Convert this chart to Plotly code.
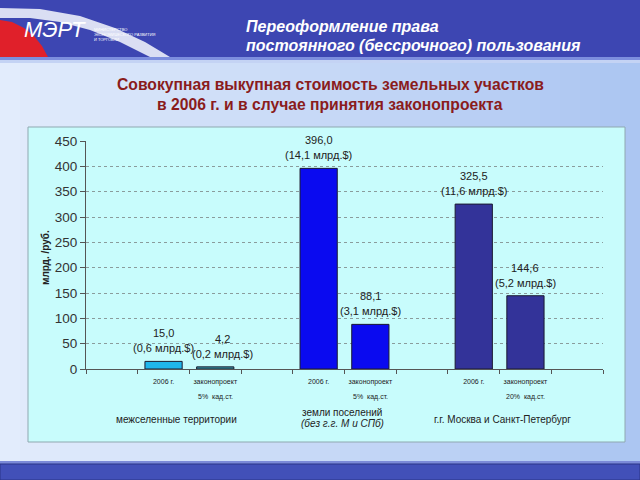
import plotly.graph_objects as go

# ---------------- data ----------------
slot_keys = ["s0", "s1", "s2", "s3", "s4", "s5", "s6", "s7", "s8", "s9"]
tick_labels = ["", "2006 г.", "законопроект", "", "2006 г.", "законопроект", "", "2006 г.", "законопроект", ""]
bar_slots = ["s1", "s2", "s4", "s5", "s7", "s8"]
values_rub = [15.0, 4.2, 396.0, 88.1, 325.5, 144.6]
value_labels = ["15,0", "4,2", "396,0", "88,1", "325,5", "144,6"]
usd_labels = ["(0,6 млрд.$)", "(0,2 млрд.$)", "(14,1 млрд.$)", "(3,1 млрд.$)", "(11,6 млрд.$)", "(5,2 млрд.$)"]
bar_colors = ["#20b6ec", "#3597a3", "#0a0af0", "#0a0af0", "#333399", "#333399"]
law_notes_slots = ["s2", "s5", "s8"]
law_notes = ["5%  кад.ст.", "5%  кад.ст.", "20%  кад.ст."]
y_ticks = [0, 50, 100, 150, 200, 250, 300, 350, 400, 450]

header_lines = ["Переоформление права", "постоянного (бессрочного) пользования"]
title_lines = ["Совокупная выкупная стоимость земельных участков",
               "в 2006 г. и в случае принятия законопроекта"]
y_title = "млрд. /руб."

# ---------------- layout geometry ----------------
W, H = 640, 480
L, R, T, B = 86, 37, 141, 111
PW = W - L - R
PH = H - T - B


def fx(p):
    return (p - L) / PW


def fy(p):
    return (H - B - p) / PH


FONT = "Liberation Sans, Arial, sans-serif"

fig = go.Figure()
fig.add_trace(go.Bar(
    x=bar_slots, y=values_rub,
    marker=dict(color=bar_colors, line=dict(color="#1a1a30", width=1)),
    width=0.72, hoverinfo="skip", showlegend=False,
))

shapes = []
# page gradient background
n = 32
c0 = (226, 236, 252)
c1 = (172, 198, 242)
for i in range(n):
    t = i / (n - 1)
    col = "rgb(%d,%d,%d)" % tuple(int(a + (b - a) * t) for a, b in zip(c0, c1))
    shapes.append(dict(type="rect", xref="paper", yref="paper", layer="below",
                       x0=fx(i * W / n), x1=fx((i + 1) * W / n + 1), y0=fy(462), y1=fy(58),
                       fillcolor=col, line=dict(width=0)))
# header band
shapes.append(dict(type="rect", xref="paper", yref="paper", layer="below",
                   x0=fx(0), x1=fx(W), y0=fy(57), y1=fy(0), fillcolor="#3d46b2", line=dict(width=0)))
shapes.append(dict(type="rect", xref="paper", yref="paper", layer="below",
                   x0=fx(0), x1=fx(W), y0=fy(60), y1=fy(57), fillcolor="#7d8ede", line=dict(width=0)))
shapes.append(dict(type="rect", xref="paper", yref="paper", layer="below",
                   x0=fx(0), x1=fx(W), y0=fy(63), y1=fy(60), fillcolor="#c4d3f4", line=dict(width=0)))


def path(pts):
    s = "M %f,%f " % (fx(pts[0][0]), fy(pts[0][1]))
    for p in pts[1:]:
        s += "L %f,%f " % (fx(p[0]), fy(p[1]))
    return s + "Z"


red_pts = [(0, 20), (12, 22), (24, 28), (34, 36), (42, 46), (48, 57), (0, 57)]
white_pts = [(0, 8), (40, 9), (80, 16), (115, 28), (145, 42), (170, 57), (150, 57),
             (120, 42), (90, 30), (60, 22), (30, 18), (0, 18)]
shapes.append(dict(type="path", xref="paper", yref="paper", layer="below",
                   path=path(red_pts), fillcolor="#e0202a", line=dict(width=0)))
shapes.append(dict(type="path", xref="paper", yref="paper", layer="below",
                   path=path(white_pts), fillcolor="rgba(235,238,250,0.9)", line=dict(width=0)))
# footer
shapes.append(dict(type="rect", xref="paper", yref="paper", layer="below",
                   x0=fx(0), x1=fx(W), y0=fy(464), y1=fy(461), fillcolor="#7b8ad8", line=dict(width=0)))
shapes.append(dict(type="rect", xref="paper", yref="paper", layer="below",
                   x0=fx(0), x1=fx(W), y0=fy(480), y1=fy(464), fillcolor="#4250b8",
                   line=dict(width=1, color="#2a3488")))
# chart panel
shapes.append(dict(type="rect", xref="paper", yref="paper", layer="below",
                   x0=fx(28), x1=fx(625), y0=fy(442), y1=fy(127), fillcolor="#c8fcfc",
                   line=dict(width=1, color="#8fa8b0")))

ann = []
# header text
for i, line in enumerate(header_lines):
    ann.append(dict(xref="paper", yref="paper", x=fx(244), y=fy(26 + 19 * i), xanchor="left",
                    yanchor="middle", text="<b><i>%s</i></b>" % line, showarrow=False,
                    font=dict(family=FONT, size=16, color="white")))
# logo text
ann.append(dict(xref="paper", yref="paper", x=fx(55), y=fy(29), xanchor="center", yanchor="middle",
                text="<i>МЭРТ</i>", showarrow=False,
                font=dict(family=FONT, size=22, color="white")))
ann.append(dict(xref="paper", yref="paper", x=fx(92), y=fy(34), xanchor="left", yanchor="middle",
                text="МИНИСТЕРСТВО<br>ЭКОНОМИЧЕСКОГО РАЗВИТИЯ<br>И ТОРГОВЛИ", showarrow=False, align="left",
                font=dict(family=FONT, size=4, color="white")))
# title
for i, line in enumerate(title_lines):
    ann.append(dict(xref="paper", yref="paper", x=fx(330), y=fy(85 + 19 * i), xanchor="center",
                    yanchor="middle", text="<b>%s</b>" % line, showarrow=False,
                    font=dict(family=FONT, size=15.7, color="#8a1c1c")))
# y-axis title
ann.append(dict(xref="paper", yref="paper", x=fx(45), y=fy(258), xanchor="center", yanchor="middle",
                text="<b>%s</b>" % y_title, textangle=-90, showarrow=False,
                font=dict(family=FONT, size=10, color="#222")))
# bar value labels (the tiny second bar's label is nudged right so it doesn't collide)
label_nudge = {"s2": 7}
for s, v, vl, ul in zip(bar_slots, values_rub, value_labels, usd_labels):
    dx = label_nudge.get(s, 0)
    ann.append(dict(x=s, y=v, xref="x", yref="y", text=vl, showarrow=False, xanchor="center",
                    yanchor="middle", yshift=28, xshift=dx,
                    font=dict(family=FONT, size=11, color="#222")))
    ann.append(dict(x=s, y=v, xref="x", yref="y", text=ul, showarrow=False, xanchor="center",
                    yanchor="middle", yshift=13, xshift=dx,
                    font=dict(family=FONT, size=11, color="#222")))
# law notes under x tick labels
for s, t in zip(law_notes_slots, law_notes):
    ann.append(dict(x=s, xref="x", yref="paper", y=fy(397), text=t, showarrow=False,
                    xanchor="center", yanchor="middle",
                    font=dict(family=FONT, size=7, color="#222")))
# group labels
group_font = dict(family=FONT, size=10, color="#222")
ann.append(dict(xref="paper", yref="paper", x=fx(176), y=fy(419), text="межселенные территории",
                showarrow=False, xanchor="center", yanchor="middle", font=group_font))
ann.append(dict(xref="paper", yref="paper", x=fx(342), y=fy(412), text="земли поселений",
                showarrow=False, xanchor="center", yanchor="middle", font=group_font))
ann.append(dict(xref="paper", yref="paper", x=fx(342), y=fy(423), text="<i>(без г.г. М и СПб)</i>",
                showarrow=False, xanchor="center", yanchor="middle", font=group_font))
ann.append(dict(xref="paper", yref="paper", x=fx(502), y=fy(419), text="г.г. Москва и Санкт-Петербург",
                showarrow=False, xanchor="center", yanchor="middle", font=group_font))

fig.update_layout(
    width=W, height=H,
    margin=dict(l=L, r=R, t=T, b=B, pad=0),
    paper_bgcolor="#c8d8f6", plot_bgcolor="rgba(0,0,0,0)",
    shapes=shapes, annotations=ann, showlegend=False,
    bargap=0.3,
    xaxis=dict(type="category", categoryorder="array", categoryarray=slot_keys,
               tickmode="array", tickvals=slot_keys, ticktext=tick_labels,
               tickson="boundaries", ticks="outside", ticklen=4, tickcolor="#555",
               tickangle=0, ticklabelstandoff=6,
               showline=True, linecolor="#555", linewidth=1, showgrid=False,
               range=[-0.5, 9.5], tickfont=dict(family=FONT, size=7, color="#222"),
               fixedrange=True),
    yaxis=dict(range=[0, 450], tickmode="array", tickvals=y_ticks,
               ticks="outside", ticklen=5, tickcolor="#555",
               showline=True, linecolor="#555", linewidth=1,
               showgrid=True, gridcolor="#8a9c9c", griddash="dot", gridwidth=1,
               zeroline=False, tickfont=dict(family=FONT, size=13.5, color="#333"),
               fixedrange=True),
)

fig.write_html("out.html", config={"displayModeBar": False})
